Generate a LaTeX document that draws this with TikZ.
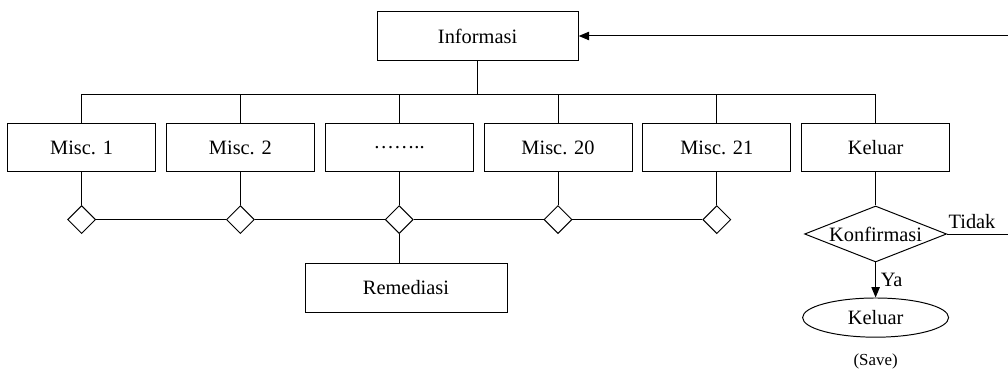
\documentclass[tikz,border=0pt]{standalone}
\usepackage{fontspec}
\setmainfont{Liberation Serif}
\usetikzlibrary{shapes.geometric, arrows.meta}
\tikzset{
  menubox/.style={draw, minimum width=3.7cm, minimum height=1.22cm, inner sep=0pt},
  joint/.style={draw, shape=diamond, fill=white, minimum size=0.7cm, inner sep=0pt},
  decision/.style={draw, shape=diamond, minimum width=3.55cm, minimum height=1.4cm, inner sep=0pt},
  endnode/.style={draw, shape=ellipse, minimum width=3.65cm, minimum height=0.98cm, inner sep=0pt},
  tip/.style={-{Triangle[length=2.6mm, width=2.1mm]}}
}

\begin{document}
\begin{tikzpicture}[line width=.7pt, font=\fontsize{14.5}{17}\selectfont]
        \useasboundingbox (0,0) rectangle (25.2,9.25);
        % menu utama
        \node[menubox, minimum width=5.03cm] (info) at (11.94, 8.35) {Informasi};
        \foreach \i/\x/\txt in {1/2.04/Misc. 1, 2/6.01/Misc. 2, 3/9.98/…….., 4/13.95/Misc. 20, 5/17.92/Misc. 21, 6/21.89/Keluar}
        \node[menubox] (m\i) at (\x, 5.56) {\txt};
        \draw (info.south) -- ++(0, -0.85) coordinate (bus);
        \draw (m1.north) -- (m1.north |- bus) -- (m6.north |- bus) -- (m6.north);
        \foreach \i in {2,...,5}
        \draw (m\i.north) -- (m\i.north |- bus);
        % cabang remediasi
        \foreach \i in {1,...,5}
        \node[joint] (d\i) at (m\i.center |- 0, 3.76) {};
        \foreach \i in {1,...,5}
        \draw (m\i.south) -- (d\i.north);
        \foreach \i/\j in {1/2, 2/3, 3/4, 4/5}
        \draw (d\i.east) -- (d\j.west);
        \node[menubox, minimum width=5.05cm] (remed) at (10.15, 2.05) {Remediasi};
        \draw (d3.south) -- (d3.south |- remed.north);
        % keluar
        \node[decision, label=center:Konfirmasi] (konf) at (21.89, 3.4) {};
        \draw (m6.south) -- (konf.north);
        \coordinate (tidakend) at (25.2, 3.4);
        \draw (konf.east) -- (tidakend);
        \node (tidak) at (24.3, 3.72) {Tidak};
        \node[endnode] (selesai) at (21.89, 1.31) {Keluar};
        \draw[tip] (konf.south) -- node[right] {Ya} (selesai.north);
        \node[font=\fontsize{12}{14}\selectfont] (save) at (21.89, 0.225) {(Save)};
        \coordinate (balik) at (25.2, 8.35);
        \draw[tip] (balik) -- (info.east);
\end{tikzpicture}
\end{document}
